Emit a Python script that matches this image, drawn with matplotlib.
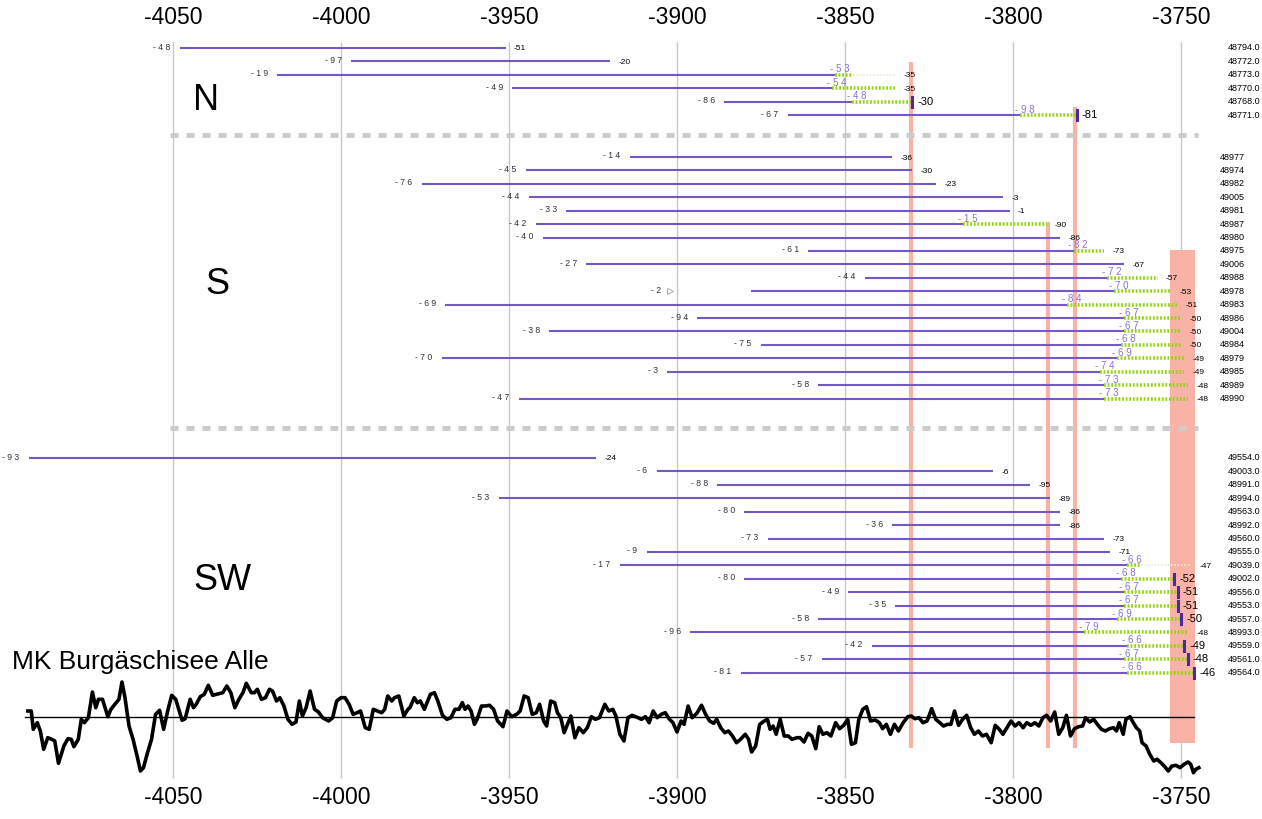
import numpy as np
import matplotlib.pyplot as plt

plt.rcParams['font.family'] = ['Liberation Sans', 'DejaVu Sans']

# year axis
xticks = [-4050, -4000, -3950, -3900, -3850, -3800, -3750]

# --- group N ---
n_start = [-4048, -3997, -4019, -3949, -3886, -3867]
n_end = [-3951, -3920, -3835, -3835, -3830, -3781]
n_sap = [None, None, -3853, -3854, -3848, -3798]
n_sap_end = [None, None, -3847.5, None, None, None]
n_waney = [False, False, False, False, True, True]
n_ids = ['48794.0', '48772.0', '48773.0', '48770.0', '48768.0', '48771.0']

# --- group S ---
s_first = [-3914, -3945, -3976, -3944, -3933, -3942, -3940, -3861, -3927, -3844,
           -3902, -3969, -3894, -3938, -3875, -3970, -3903, -3858, -3947]
s_start = [-3914, -3945, -3976, -3944, -3933, -3942, -3940, -3861, -3927, -3844,
           -3878, -3969, -3894, -3938, -3875, -3970, -3903, -3858, -3947]
s_end = [-3836, -3830, -3823, -3803, -3801, -3790, -3786, -3773, -3767, -3757,
         -3753, -3751, -3750, -3750, -3750, -3749, -3749, -3748, -3748]
s_sap = [None, None, None, None, None, -3815, None, -3782, None, -3772,
         -3770, -3784, -3767, -3767, -3768, -3769, -3774, -3773, -3773]
s_ids = ['48977', '48974', '48982', '49005', '48981', '48987', '48980', '48975', '49006',
         '48988', '48978', '48983', '48986', '49004', '48984', '48979', '48985', '48989', '48990']

# --- group SW ---
sw_start = [-4093, -3906, -3888, -3953, -3880, -3836, -3873, -3909, -3917,
            -3880, -3849, -3835, -3858, -3896, -3842, -3857, -3881]
sw_end = [-3924, -3806, -3795, -3789, -3786, -3786, -3773, -3771, -3747,
          -3752, -3751, -3751, -3750, -3748, -3749, -3748, -3746]
sw_sap = [None, None, None, None, None, None, None, None, -3766,
          -3768, -3767, -3767, -3769, -3779, -3766, -3767, -3766]
sw_sap_end = [None] * 8 + [-3762] + [None] * 8
sw_waney = [False] * 9 + [True, True, True, True, False, True, True, True]
sw_ids = ['49554.0', '49003.0', '48991.0', '48994.0', '49563.0', '48992.0', '49560.0', '49555.0',
          '49039.0', '49002.0', '49556.0', '49553.0', '49557.0', '48993.0', '49559.0', '49561.0',
          '49564.0']

# felling dates (red marks)
fell_lines = [-3830.4, -3789.6, -3781.5]
fell_box = (-3753.3, -3745.8)

# mean curve MK Burgaeschisee Alle (index deviation)
chron_years = [-4093.2, -4092.2, -4091.6, -4090.4, -4089.5, -4088.5, -4087.3, -4086.1, -4085.2, -4084.1,
               -4082.5, -4081.3, -4080.3, -4079.5, -4078.2, -4077.3, -4076.4, -4075.2, -4074.0, -4073.0,
               -4072.2, -4071.0, -4069.4, -4068.5, -4067.3, -4066.1, -4065.2, -4064.3, -4063.1, -4061.9,
               -4060.7, -4059.7, -4058.8, -4057.6, -4056.4, -4055.2, -4054.0, -4052.8, -4051.6, -4050.4,
               -4049.2, -4047.3, -4046.4, -4044.9, -4043.9, -4043.1, -4041.9, -4040.7, -4039.5, -4038.2,
               -4037.0, -4035.2, -4034.0, -4032.8, -4031.6, -4030.4, -4029.2, -4028.2, -4026.7, -4025.8,
               -4024.9, -4023.7, -4022.5, -4021.3, -4020.4, -4019.2, -4018.2, -4017.0, -4015.8, -4014.6,
               -4013.4, -4012.4, -4011.5, -4010.4, -4009.2, -4007.9, -4006.7, -4005.5, -4003.7, -4002.5,
               -4001.3, -4000.0, -3998.8, -3997.6, -3996.4, -3995.2, -3994.2, -3992.8, -3991.6, -3990.4,
               -3989.2, -3987.9, -3987.0, -3986.1, -3984.9, -3984.1, -3982.8, -3981.3, -3980.1, -3979.5,
               -3978.2, -3977.3, -3976.4, -3975.2, -3974.4, -3973.4, -3972.2, -3971.2, -3969.8, -3968.5,
               -3967.3, -3966.1, -3964.9, -3963.9, -3963.1, -3962.2, -3961.3, -3960.3, -3959.5, -3958.2,
               -3957.0, -3955.8, -3954.6, -3953.4, -3951.8, -3950.6, -3949.2, -3947.7, -3946.7, -3945.5,
               -3944.3, -3943.1, -3941.9, -3940.9, -3939.7, -3938.8, -3937.6, -3936.4, -3935.6, -3934.6,
               -3933.6, -3932.8, -3931.6, -3930.4, -3929.2, -3927.9, -3926.7, -3925.5, -3924.3, -3923.1,
               -3921.5, -3920.3, -3919.1, -3918.2, -3917.0, -3915.8, -3914.6, -3913.4, -3911.6, -3910.6,
               -3909.4, -3908.3, -3907.1, -3905.9, -3904.7, -3903.5, -3902.4, -3901.2, -3900.0, -3898.8,
               -3897.9, -3896.7, -3895.5, -3894.1, -3892.7, -3891.5, -3890.3, -3889.1, -3888.2, -3887.0,
               -3885.8, -3884.7, -3883.5, -3882.3, -3881.1, -3879.7, -3878.7, -3877.8, -3876.6, -3875.4,
               -3874.0, -3873.1, -3872.3, -3871.4, -3870.5, -3869.3, -3868.1, -3866.9, -3865.8, -3864.3,
               -3863.4, -3862.2, -3861.0, -3859.9, -3858.7, -3857.7, -3856.6, -3855.4, -3854.2, -3852.8,
               -3851.6, -3850.4, -3849.2, -3848.1, -3846.9, -3845.9, -3844.7, -3843.6, -3842.4, -3841.0,
               -3839.8, -3838.8, -3837.7, -3836.5, -3835.3, -3834.1, -3832.7, -3831.3, -3830.3, -3829.2,
               -3828.0, -3826.8, -3825.6, -3824.2, -3823.0, -3821.8, -3820.7, -3819.5, -3818.5, -3817.4,
               -3816.2, -3815.0, -3813.8, -3812.6, -3811.5, -3810.3, -3809.1, -3807.9, -3806.5, -3805.3,
               -3804.1, -3803.0, -3801.8, -3800.6, -3799.4, -3798.2, -3797.0, -3795.9, -3794.7, -3793.5,
               -3792.3, -3791.1, -3790.0, -3788.8, -3787.6, -3786.4, -3785.2, -3784.1, -3782.9, -3781.7,
               -3780.5, -3779.3, -3778.4, -3777.2, -3776.0, -3774.9, -3773.7, -3772.5, -3771.3, -3770.1,
               -3769.2, -3768.4, -3767.2, -3766.4, -3765.2, -3764.2, -3763.3, -3762.3, -3761.6, -3760.4,
               -3759.3, -3758.1, -3757.1, -3756.0, -3755.0, -3753.8, -3752.7, -3751.5, -3750.3, -3749.1,
               -3747.9, -3747.1, -3746.3, -3745.6, -3744.7]
chron_vals = [6.0, 6.0, -12.3, -5.7, -14.0, -32.3, -20.7, -22.3, -24.0, -46.3,
              -29.0, -21.7, -22.3, -29.7, -22.3, -2.3, -5.7, -0.7, 25.0, 9.3,
              17.7, 17.7, 0.3, 7.7, 12.7, 17.7, 35.0, 19.3, -9.0, -22.3,
              -39.0, -54.0, -50.7, -35.7, -22.3, 2.7, 6.7, -12.3, 6.0, 21.7,
              17.7, -3.3, -1.7, 17.7, 9.3, 12.7, 20.3, 22.7, 31.7, 21.7,
              22.7, 24.3, 31.0, 24.3, 9.3, 17.7, 24.3, 33.7, 24.3, 24.3,
              27.7, 17.7, 19.3, 27.7, 26.0, 16.0, 19.3, 11.0, -2.3, -7.3,
              -5.0, 16.0, 1.0, 9.3, 26.0, 7.7, 5.0, -0.7, -4.0, -0.7,
              16.0, 19.3, 19.3, 12.7, 2.7, 4.3, 6.0, -10.7, -12.3, 7.7,
              6.0, 4.3, 7.7, 21.0, 16.0, 19.3, 21.0, 1.0, 7.7, 9.3,
              19.3, 14.3, 16.0, 7.7, 14.3, 22.7, 24.3, 16.0, 1.7, -2.3,
              -0.7, 7.7, 7.7, 14.3, 7.7, 11.0, 6.0, -7.3, -2.3, 11.0,
              11.0, 11.7, 7.7, -4.0, -9.7, 6.0, 0.3, 2.7, 6.0, 21.0,
              19.3, 2.7, 4.3, 12.7, -4.0, -9.0, 16.0, 14.3, 4.3, -0.7,
              -15.7, -9.0, 1.0, -20.7, -10.7, -15.7, -10.7, 0.3, -2.3, -0.7,
              12.7, 6.0, 7.7, 1.0, -17.3, -24.0, -0.7, 1.7, -0.7, -2.3,
              0.3, -5.7, 6.0, -0.7, 2.7, 4.3, -1.7, -5.7, -15.0, -4.0,
              -7.3, 11.0, -0.7, 3.7, 11.7, 2.7, -4.0, -6.3, -2.3, -10.7,
              -15.7, -14.0, -19.0, -25.7, -22.3, -17.3, -22.3, -35.0, -29.0, -7.3,
              -4.0, -2.3, -12.3, -9.0, -17.3, -2.3, -19.0, -19.0, -22.3, -20.7,
              -20.7, -25.0, -16.3, -19.0, -31.7, -9.7, -17.3, -15.7, -19.0, -5.7,
              -11.7, -8.3, -2.3, -27.3, -25.7, -2.3, 7.7, 10.3, -4.0, -3.0,
              -5.7, -11.7, -7.3, -17.3, -7.3, -14.0, -5.7, 0.3, 1.0, -1.7,
              -0.7, -5.7, -4.0, 8.3, -2.3, -5.7, -9.0, -7.3, -7.3, 6.0,
              -8.3, -2.3, 1.7, -10.7, -17.3, -14.0, -19.0, -17.3, -25.7, -8.3,
              -12.3, -17.3, -10.7, -4.0, -9.0, -5.7, -10.7, -5.7, -8.3, -5.7,
              -9.0, -0.7, 1.7, -4.0, 5.0, -17.3, -10.7, 1.7, -19.0, -11.7,
              -9.7, -9.0, -0.7, -5.0, -2.3, -7.3, -12.3, -14.0, -11.7, -10.7,
              -14.0, -5.7, -17.3, -2.3, 0.3, -5.7, -10.7, -14.0, -25.7, -29.0,
              -37.3, -44.0, -42.3, -45.7, -49.0, -54.0, -49.0, -48.3, -50.7, -47.3,
              -45.0, -47.3, -55.7, -52.3, -50.7]

# layout (pixel-like units, y downward)
ROW = 13.42
N_Y0, S_Y0, SW_Y0 = 48, 157, 458
BASE_Y = 717
SEP_Y = [135, 428]

PURPLE = '#7558c4'
GREEN = '#93d60c'
SAP_LAB = '#8a70d2'
RED = '#f9b2a6'
WANEY = '#4a2a9c'

fig = plt.figure(figsize=(12.62, 8.19), dpi=100)
ax = fig.add_axes([0, 0, 1, 1])
ax.set_xlim(-4101.5, -3725.9)
ax.set_ylim(819, 0)
ax.axis('off')

# grid + tick labels
ax.vlines(xticks, 42, 778, color='#c8c8c8', lw=1.0, zorder=0)
for t in xticks:
    ax.text(t, 18, str(t), ha='center', va='center', fontsize=16.5)
    ax.text(t, 797, str(t), ha='center', va='center', fontsize=16.5)

# felling marks
ax.vlines(fell_lines, [62, 222, 107], 748, color=RED, lw=3, zorder=1)
ax.fill_between(fell_box, 250, 743, color=RED, lw=0, zorder=1)

# separators
for ys in SEP_Y:
    ax.plot([-4051, -3745], [ys, ys], color='#cccccc', lw=3.6, ls=(0, (1.6, 1.6)), zorder=1)


def spaced(v):
    return '- ' + ' '.join(str(abs(v) % 100))


def draw_group(y0, first, start, end, sap, sap_end, waney, ids, id_x):
    for i in range(len(start)):
        y = y0 + i * ROW
        line_end = sap[i] if sap[i] is not None else end[i]
        ax.plot([start[i], line_end], [y, y], color=PURPLE, lw=1.5, solid_capstyle='butt', zorder=3)
        if sap[i] is not None:
            g_end = sap_end[i] if sap_end[i] is not None else end[i]
            ax.plot([sap[i], g_end], [y, y], color=GREEN, lw=2.6, ls=(0, (0.5, 0.5)), zorder=3)
            if g_end < end[i]:
                ax.plot([g_end, end[i]], [y, y], color='#e4efdc', lw=1.2, ls=(0, (1, 1)), zorder=3)
            ax.text(sap[i] - 1.5, y - 5.5, spaced(sap[i]), color=SAP_LAB, fontsize=7,
                    ha='left', va='center', zorder=4)
        if first[i] != start[i]:
            ax.plot(first[i], y, marker='>', ms=4, mfc='none', mec='#aaaaaa', mew=0.7)
        ax.text(first[i] - 2.8, y - 1, spaced(first[i]), fontsize=6.2, color='#333333',
                ha='right', va='center')
        if waney[i]:
            ax.plot([end[i], end[i]], [y - 5, y + 5], color=WANEY, lw=2.2, zorder=4)
            ax.text(end[i] + 1.5, y, '-%d' % (abs(end[i]) % 100), fontsize=8,
                    ha='left', va='center')
        else:
            ax.text(end[i] + 2.5, y + 1, '-%d' % (abs(end[i]) % 100), fontsize=6,
                    ha='left', va='center')
        ax.text(id_x, y, ids[i], fontsize=6.5, ha='left', va='center')


draw_group(N_Y0, n_start, n_start, n_end, n_sap, n_sap_end, n_waney, n_ids, -3736.0)
draw_group(S_Y0, s_first, s_start, s_end, s_sap, [None] * len(s_sap), [False] * len(s_sap),
           s_ids, -3738.4)
draw_group(SW_Y0, sw_start, sw_start, sw_end, sw_sap, sw_sap_end, sw_waney, sw_ids, -3736.0)

# group names
ax.text(-4044, 100, 'N', fontsize=26, ha='left', va='center')
ax.text(-4040.5, 285, 'S', fontsize=26, ha='left', va='center')
ax.text(-4044, 580, 'SW', fontsize=26, ha='left', va='center')

# mean curve
ax.plot([-4094, -3746], [BASE_Y, BASE_Y], color='black', lw=1.0, zorder=5)
ax.plot(chron_years, BASE_Y - np.array(chron_vals), color='black', lw=2.6, zorder=6,
        solid_joinstyle='round')
ax.text(-4098, 662, 'MK Burgäschisee Alle', fontsize=19, ha='left', va='center')

fig.savefig('out.png', dpi=100)
